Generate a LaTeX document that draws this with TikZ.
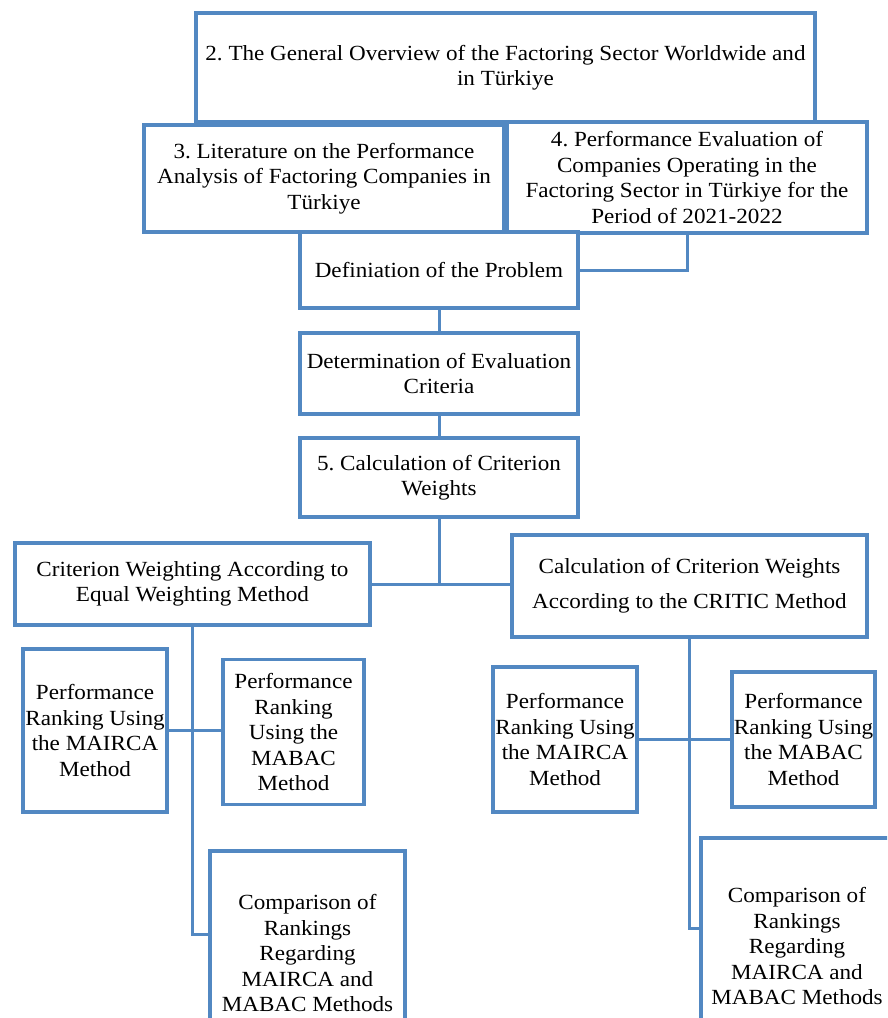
\documentclass[tikz,border=0pt]{standalone}
\usepackage{fontspec}
\setmainfont{Liberation Serif}[FakeStretch=1.07]
\definecolor{bl}{RGB}{82,136,194}
\begin{document}
\frenchspacing
\begin{tikzpicture}[x=1pt,y=-1pt,
 bx/.style={draw=bl, line width=3.8pt, fill=white, inner sep=0pt, outer sep=0pt, align=center, font=\fontsize{21.6}{25.5}\selectfont},
 ln/.style={draw=bl, line width=3pt}]
\useasboundingbox (0,0) rectangle (887,1018);
\clip (0,0) rectangle (887,1018);
% boxes
\node[bx, minimum width=619, minimum height=109] (ov) at (505.5,67.5) {2. The General Overview of the Factoring Sector Worldwide and\\ in Türkiye};
\node[bx, minimum width=360, minimum height=107] (lit) at (324,178.5) {3. Literature on the Performance\\ Analysis of Factoring Companies in\\ Türkiye};
\node[bx, minimum width=360, minimum height=111] (ev) at (687,177.5) {4. Performance Evaluation of\\ Companies Operating in the\\ Factoring Sector in Türkiye for the\\ Period of 2021-2022};
\node[bx, minimum width=278, minimum height=76] (def) at (439,270) {Definiation of the Problem};
\node[bx, minimum width=278, minimum height=81] (det) at (439,373.5) {Determination of Evaluation\\ Criteria};
\node[bx, minimum width=278, minimum height=79] (c5) at (439,477.5) {5. Calculation of Criterion\\ Weights};
\node[bx, minimum width=355, minimum height=82] (crit) at (192.5,584) {Criterion Weighting According to\\ Equal Weighting Method};
\node[bx, minimum width=355, minimum height=102] (critic) at (689.5,586) {Calculation of Criterion Weights\\[9.5pt] According to the CRITIC Method};
\node[bx, minimum width=144, minimum height=163] (maL) at (95,730.5) {Performance\\ Ranking Using\\ the MAIRCA\\ Method};
\node[bx, minimum width=141, minimum height=145] (mbL) at (293.5,732) {Performance\\ Ranking\\ Using the\\ MABAC\\ Method};
\node[bx, minimum width=144, minimum height=145] (maR) at (565,739.5) {Performance\\ Ranking Using\\ the MAIRCA\\ Method};
\node[bx, minimum width=143, minimum height=135] (mbR) at (803.5,739.5) {Performance\\ Ranking Using\\ the MABAC\\ Method};
\node[bx, minimum width=195, minimum height=204] (cmpL) at (307.5,953) {Comparison of\\ Rankings\\ Regarding\\ MAIRCA and\\ MABAC Methods};
\node[bx, minimum width=192, minimum height=216] (cmpR) at (797,946) {Comparison of\\ Rankings\\ Regarding\\ MAIRCA and\\ MABAC Methods};
% connectors
\coordinate (j) at (439,584);
\coordinate (lk) at (192.5,934);
\coordinate (rk) at (689.5,928);
\draw[ln] (def.east) -| (ev.south);
\draw[ln] (def.south) -- (det.north);
\draw[ln] (det.south) -- (c5.north);
\draw[ln] (c5.south) -- (j);
\draw[ln] (crit.east) -- (critic.west |- crit.east);
\draw[ln] (crit.south) -- (lk) -- (lk -| cmpL.west);
\draw[ln] (maL.east) -- (mbL.west |- maL.east);
\draw[ln] (critic.south) -- (rk) -- (rk -| cmpR.west);
\draw[ln] (maR.east) -- (mbR.west);
\end{tikzpicture}
\end{document}
